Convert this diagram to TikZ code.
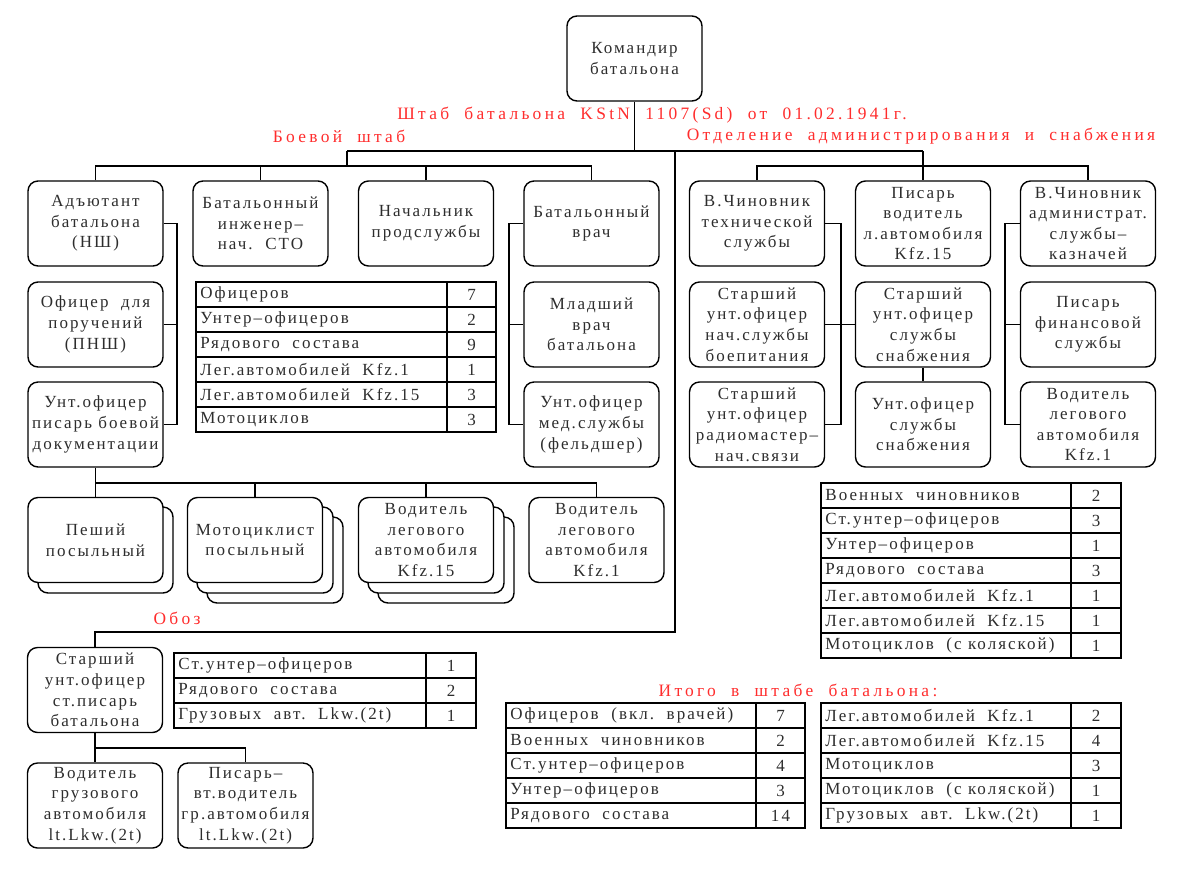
\documentclass[tikz,border=0pt]{standalone}
\usepackage{fontspec}
\setmainfont{Liberation Serif}[LetterSpace=12]
\newfontfamily\redfont{Liberation Serif}[LetterSpace=19]
\definecolor{tred}{RGB}{255,45,45}
\definecolor{tgray}{RGB}{45,45,45}
\tikzset{
  box/.style={draw, rounded corners=5pt, line width=0.7pt, minimum width=67.5pt,
    minimum height=42.5pt, align=center, inner sep=0pt, fill=white, text=tgray,
    font=\fontsize{8.5}{10.3}\selectfont},
  shadowbox/.style={draw, rounded corners=5pt, line width=0.7pt, fill=white},
  ln/.style={line width=0.7pt},
  cell/.style={inner sep=0pt, text=tgray, font=\fontsize{8.5}{10}\selectfont},
  redt/.style={inner sep=0pt, text=tred, font=\redfont\fontsize{8.7}{10}\selectfont},
}
\newcommand\datatable[6]{% prefix, left, divider, right, top, list
  \foreach \t/\v [count=\i] in {#6} {
    \pgfmathsetmacro\ya{#5+25*(\i-1)}
    \pgfmathsetmacro\yb{#5+25*\i}
    \pgfmathsetmacro\ym{#5+25*(\i-1)+12.5}
    \draw[ln] (#2,\ya) rectangle (#4,\yb);
    \draw[ln] (#3,\ya) -- (#3,\yb);
    \node[cell, anchor=west] (#1a\i) at (#2+4,\ym) {\t};
    \node[cell] (#1b\i) at ({(#3+#4)/2},\ym) {\v};
  }
}
\begin{document}
\begin{tikzpicture}[x=0.5pt,y=-0.5pt]
\useasboundingbox (0,0) rectangle (1200,874);
\fill[white] (0,0) rectangle (1200,874);

% red headings
\node[redt] (title) at (652,115) {Штаб\ \ батальона\ \ KStN\ \ 1107(Sd)\ \ от\ \ 01.02.1941г.};
\node[redt] (boev) at (339,136) {Боевой\ \ штаб};
\node[redt] (otdel) at (921,136) {Отделение\ \ администрирования\ \ и\ \ снабжения};
\node[redt] (oboz) at (177,618) {Обоз};
\node[redt] (itogo) at (798,690) {Итого\ \ в\ \ штабе\ \ батальона:};

% top
\node[box] (cmd) at (634.5,58.5) {Командир\\батальона};

% row 1
\node[box] (adj) at (95.5,223.5) {Адъютант\\батальона\\(НШ)};
\node[box] (eng) at (260.5,223.5) {Батальонный\\инженер–\\нач.\ \ СТО};
\node[box] (prod) at (426,223.5) {Начальник\\продслужбы};
\node[box] (vrach) at (591.5,223.5) {Батальонный\\врач};
\node[box] (tech) at (757,223.5) {В.Чиновник\\технической\\службы};
\node[box] (pisar) at (923,223.5) {Писарь\\водитель\\л.автомобиля\\Kfz.15};
\node[box] (admin) at (1088,223.5) {В.Чиновник\\администрат.\\службы–\\казначей};

% row 2
\node[box] (ofic) at (95.5,324.5) {Офицер\ \ для\\поручений\\(ПНШ)};
\node[box] (mlvrach) at (591.5,324.5) {Младший\\врач\\батальона};
\node[box] (boepit) at (757,324.5) {Старший\\унт.офицер\\нач.службы\\боепитания};
\node[box] (stsnab) at (923,324.5) {Старший\\унт.офицер\\службы\\снабжения};
\node[box] (fin) at (1088,324.5) {Писарь\\финансовой\\службы};

% row 3
\node[box] (pisbd) at (95.5,424.5) {Унт.офицер\\писарь\ боевой\\документации};
\node[box] (medsl) at (591.5,424.5) {Унт.офицер\\мед.службы\\(фельдшер)};
\node[box] (radio) at (757,424.5) {Старший\\унт.офицер\\радиомастер–\\нач.связи};
\node[box] (unsnab) at (923,424.5) {Унт.офицер\\службы\\снабжения};
\node[box] (vodr) at (1088,424.5) {Водитель\\легового\\автомобиля\\Kfz.1};

% bottom row with stacks
\draw[shadowbox] (38,507) rectangle (173,593);
\node[box] (peshiy) at (95.5,540) {Пеший\\посыльный};
\draw[shadowbox] (207,517) rectangle (343,603);
\draw[shadowbox] (197,507) rectangle (333,593);
\node[box] (moto) at (255,540) {Мотоциклист\\посыльный};
\draw[shadowbox] (378,517) rectangle (514,603);
\draw[shadowbox] (368,507) rectangle (504,593);
\node[box] (kfz15) at (426,540) {Водитель\\легового\\автомобиля\\Kfz.15};
\node[box] (kfz1) at (596.5,540) {Водитель\\легового\\автомобиля\\Kfz.1};

% obоз
\node[box] (starpis) at (95,690) {Старший\\унт.офицер\\ст.писарь\\батальона};
\node[box] (vodgruz) at (95,805.5) {Водитель\\грузового\\автомобиля\\lt.Lkw.(2t)};
\node[box] (pisvod) at (245.5,805.5) {Писарь–\\вт.водитель\\гр.автомобиля\\lt.Lkw.(2t)};

% connectors
\coordinate (hL) at (347,151);
\coordinate (hR) at (923,151);
\coordinate (bL) at (347,166);
\coordinate (bR) at (923,166);
\coordinate (lv) at (675,151);
\coordinate (lvb) at (675,632);
\coordinate (cl) at (177,0);
\coordinate (cv) at (509,0);
\coordinate (ct) at (841,0);
\coordinate (ca) at (1005,0);
\coordinate (br) at (0,483);
\coordinate (bo) at (0,748);

\draw[ln] (cmd.south) -- (cmd.south |- hL);
\draw[ln] (hL) -- (hR);
\draw[ln] (hL) -- (bL);
\draw[ln] (adj.north) -- (adj.north |- bL) -- (vrach.north |- bL) -- (vrach.north);
\draw[ln] (eng.north) -- (eng.north |- bL);
\draw[ln] (prod.north) -- (prod.north |- bL);
\draw[ln] (hR) -- (pisar.north);
\draw[ln] (tech.north) -- (tech.north |- bR) -- (admin.north |- bR) -- (admin.north);
\draw[ln] (lv) -- (lvb) -- (starpis.north |- lvb) -- (starpis.north);

\draw[ln] (adj.east) -| (cl |- pisbd.east) -- (pisbd.east);
\draw[ln] (ofic.east) -- (cl |- ofic.east);
\draw[ln] (vrach.west) -| (cv |- medsl.west) -- (medsl.west);
\draw[ln] (mlvrach.west) -- (cv |- mlvrach.west);
\draw[ln] (tech.east) -| (ct |- radio.east) -- (radio.east);
\draw[ln] (boepit.east) -- (stsnab.west);
\draw[ln] (stsnab.south) -- (unsnab.north);
\draw[ln] (admin.west) -| (ca |- vodr.west) -- (vodr.west);
\draw[ln] (fin.west) -- (ca |- fin.west);

\draw[ln] (pisbd.south) -- (pisbd.south |- br);
\draw[ln] (peshiy.north) -- (peshiy.north |- br) -- (kfz1.north |- br) -- (kfz1.north);
\draw[ln] (moto.north) -- (moto.north |- br);
\draw[ln] (kfz15.north) -- (kfz15.north |- br);
\draw[ln] (starpis.south) -- (starpis.south |- bo) -| (pisvod.north);
\draw[ln] (starpis.south |- bo) -- (vodgruz.north);

% tables
\datatable{ta}{196}{447}{496}{282}{{Офицеров}/7,{Унтер–офицеров}/2,{Рядового\ \ состава}/9,{Лег.автомобилей\ \ Kfz.1}/1,{Лег.автомобилей\ \ Kfz.15}/3,{Мотоциклов}/3}
\datatable{tb}{821}{1071}{1121}{483}{{Военных\ \ чиновников}/2,{Ст.унтер–офицеров}/3,{Унтер–офицеров}/1,{Рядового\ \ состава}/3,{Лег.автомобилей\ \ Kfz.1}/1,{Лег.автомобилей\ \ Kfz.15}/1,{Мотоциклов\ \ (с\ коляской)}/1}
\datatable{tc}{174}{426}{476}{653}{{Ст.унтер–офицеров}/1,{Рядового\ \ состава}/2,{Грузовых\ \ авт.\ \ Lkw.(2t)}/1}
\datatable{td}{506}{756}{805}{703}{{Офицеров\ \ (вкл.\ \ врачей)}/7,{Военных\ \ чиновников}/2,{Ст.унтер–офицеров}/4,{Унтер–офицеров}/3,{Рядового\ \ состава}/14}
\datatable{te}{821}{1071}{1121}{703}{{Лег.автомобилей\ \ Kfz.1}/2,{Лег.автомобилей\ \ Kfz.15}/4,{Мотоциклов}/3,{Мотоциклов\ \ (с\ коляской)}/1,{Грузовых\ \ авт.\ \ Lkw.(2t)}/1}
\end{tikzpicture}
\end{document}
